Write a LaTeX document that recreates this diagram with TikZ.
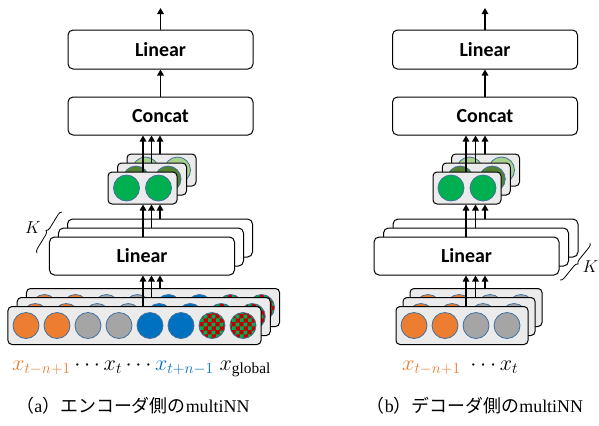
\documentclass[tikz,border=0pt]{standalone}
\usepackage{fontspec}
\setmainfont{Liberation Serif}
\newfontfamily\boxfont{Carlito}
\newfontfamily\jpfont{Noto Sans CJK JP}
\usetikzlibrary{arrows.meta,patterns,decorations.pathreplacing}

\definecolor{xorange}{HTML}{ED7D31}
\definecolor{xgray}{HTML}{A5A5A5}
\definecolor{xblue}{HTML}{0070C0}
\definecolor{leaf}{HTML}{00B050}
\definecolor{leafdark}{HTML}{548235}
\definecolor{leafpale}{HTML}{A9D18E}
\definecolor{checkred}{HTML}{C00000}
\definecolor{unitline}{HTML}{41719C}
\definecolor{layergray}{HTML}{EBEBEB}

\pgfdeclarepatternformonly{bigchecker}{\pgfpointorigin}{\pgfqpoint{8bp}{8bp}}{\pgfqpoint{8bp}{8bp}}{%
  \pgfpathrectangle{\pgfpointorigin}{\pgfqpoint{4bp}{4bp}}%
  \pgfpathrectangle{\pgfqpoint{4bp}{4bp}}{\pgfqpoint{4bp}{4bp}}%
  \pgfusepath{fill}}

\tikzset{
  box/.style={draw, line width=1bp, rounded corners=5bp, fill=white, minimum width=185bp,
    minimum height=39bp, inner sep=0pt, font=\boxfont\bfseries\fontsize{20}{24}\selectfont},
  layer/.style={draw, line width=1bp, rounded corners=4bp, fill=layergray, minimum height=38bp, inner sep=0pt},
  unit/.style={circle, draw=unitline, line width=0.8bp, minimum size=26bp, inner sep=0pt},
  ora/.style={unit, fill=xorange},
  gry/.style={unit, fill=xgray},
  blu/.style={unit, fill=xblue},
  chk/.style={unit, preaction={fill=checkred}, pattern=bigchecker, pattern color=leaf},
  flow/.style={-{Triangle[length=6bp,width=6.5bp]}, line width=1.6bp},
  kbrace/.style={decorate, decoration={brace, amplitude=4bp}, line width=0.8bp},
  lbl/.style={anchor=base west, inner sep=0pt, font=\fontsize{20.74}{25}\selectfont},
  captext/.style={anchor=base, inner sep=0pt, font=\fontsize{18}{22}\selectfont},
}

\begin{document}
\begin{tikzpicture}[x=1bp,y=-1bp]
\useasboundingbox (0,0) rectangle (599,425);

% (a) encoder side
\coordinate (outA) at (160.5,8);
\node[box] (linA) at (160.5,49.5) {Linear};
\node[box, minimum height=38bp] (catA) at (160.5,116) {Concat};

\foreach \k/\c in {2/leafpale,1/leafdark,0/leaf} {
  \node[layer, minimum width=69bp, minimum height=32bp] (hidA\k) at (142.5+9.5*\k,188-9*\k) {};
  \node[unit, fill=\c] (hidA\k u0) at (126.5+9.5*\k,188-9*\k) {};
  \node[unit, fill=\c] (hidA\k u1) at (158.5+9.5*\k,188-9*\k) {};
}

\node[box, minimum height=38bp] (kA2) at (160,238) {};
\node[box, minimum height=38bp] (kA1) at (151,247) {};
\node[box, minimum height=38bp] (kA0) at (142,256) {Linear};

\foreach \k in {2,1,0} {
  \node[layer, minimum width=253bp] (inA\k) at (134.5+9.25*\k,325.5-9*\k) {};
  \foreach \i/\s in {0/ora,1/ora,2/gry,3/gry,4/blu,5/blu,6/chk,7/chk}
    \node[\s] (inA\k u\i) at (26+9.25*\k+31*\i,325.5-9*\k) {};
}

\foreach \k in {0,1,2} {
  \coordinate (axA\k) at (143+8.5*\k,0);
  \draw[flow] (inA\k.north -| axA\k) -- (kA0.south -| axA\k);
  \draw[flow] (kA\k.north -| axA\k) -- (hidA0.south -| axA\k);
  \draw[flow] (hidA\k.north -| axA\k) -- (catA.south -| axA\k);
}
\draw[flow] (catA) -- (linA);
\draw[flow] (linA) -- (outA);

\coordinate (kbA1) at (37,253);
\coordinate (kbA2) at (62,212);
\draw[kbrace] (kbA1) -- (kbA2);
\node[font=\fontsize{17.28}{20}\selectfont, inner sep=0pt] (kA) at (33,228) {$K$};

\node[lbl] (xA) at (12,370)
  {\scalebox{1.07}{$\textcolor{xorange}{x_{t-n+1}}\cdots x_t\cdots\textcolor{xblue}{x_{t+n-1}}\;x_{\mathrm{global}}$}};
\node[captext] (capA) at (133,412) {{\jpfont （}a{\jpfont ）エンコーダ側の}multiNN};

% (b) decoder side
\coordinate (outB) at (485,8);
\node[box] (linB) at (485,49.5) {Linear};
\node[box, minimum height=38bp] (catB) at (485,116) {Concat};

\foreach \k/\c in {2/leafpale,1/leafdark,0/leaf} {
  \node[layer, minimum width=68bp, minimum height=32bp] (hidB\k) at (467+9.25*\k,188-9*\k) {};
  \node[unit, fill=\c] (hidB\k u0) at (451+9.25*\k,188-9*\k) {};
  \node[unit, fill=\c] (hidB\k u1) at (483+9.25*\k,188-9*\k) {};
}

\node[box, minimum height=38bp] (kB2) at (485.5,238) {};
\node[box, minimum height=38bp] (kB1) at (476,247) {};
\node[box, minimum height=38bp] (kB0) at (466.5,256) {Linear};

\foreach \k in {2,1,0} {
  \node[layer, minimum width=132bp] (inB\k) at (462+7*\k,325.5-9*\k) {};
  \foreach \i/\s in {0/ora,1/ora,2/gry,3/gry}
    \node[\s] (inB\k u\i) at (414+7*\k+31*\i,325.5-9*\k) {};
}

\foreach \k in {0,1,2} {
  \coordinate (axB\k) at (466+9.5*\k,0);
  \draw[flow] (inB\k.north -| axB\k) -- (kB0.south -| axB\k);
  \draw[flow] (kB\k.north -| axB\k) -- (hidB0.south -| axB\k);
  \draw[flow] (hidB\k.north -| axB\k) -- (catB.south -| axB\k);
}
\draw[flow] (catB) -- (linB);
\draw[flow] (linB) -- (outB);

\coordinate (kbB1) at (590,243);
\coordinate (kbB2) at (560,280);
\draw[kbrace] (kbB1) -- (kbB2);
\node[font=\fontsize{17.28}{20}\selectfont, inner sep=0pt] (kB) at (590.5,267) {$K$};

\node[lbl] (xB) at (402,370) {\scalebox{1.07}{$\textcolor{xorange}{x_{t-n+1}}\;\cdots x_t$}};
\node[captext] (capB) at (475,412) {{\jpfont （}b{\jpfont ）デコーダ側の}multiNN};
\end{tikzpicture}
\end{document}
